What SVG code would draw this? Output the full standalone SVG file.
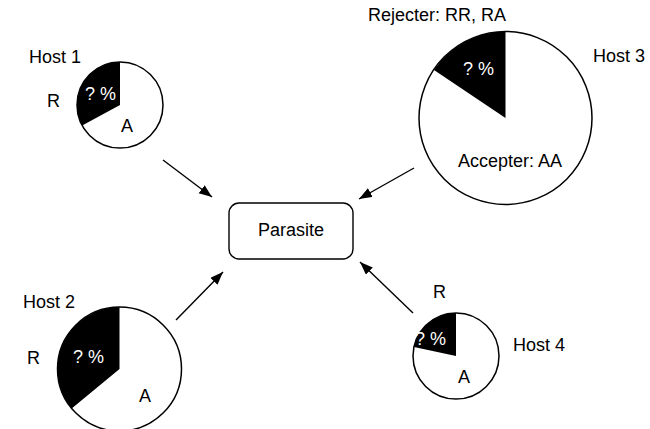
<svg xmlns="http://www.w3.org/2000/svg" width="650" height="429" viewBox="0 0 650 429">
<style>
text{font-family:"Liberation Sans",Arial,sans-serif;font-size:18px;fill:#000}
text.w{fill:#fff}
.pie{fill:none;stroke:#000;stroke-width:1.5}
.wedge{fill:#000}
.con{stroke:#000;stroke-width:1.4;fill:none;marker-end:url(#ah)}
</style>
<defs>
<marker id="ah" markerUnits="userSpaceOnUse" markerWidth="14" markerHeight="12" refX="13" refY="5" orient="auto">
<path d="M0,0 L13,5 L0,10 Z" fill="#000"/>
</marker>
</defs>
<rect width="650" height="429" fill="#fff"/>
<g id="connectors">
<line class="con" x1="163" y1="160" x2="212" y2="197"/>
<line class="con" x1="414" y1="168" x2="359" y2="199"/>
<line class="con" x1="176" y1="320" x2="223" y2="272"/>
<line class="con" x1="413" y1="313" x2="360" y2="262"/>
</g>
<g id="parasite">
<rect x="229" y="203" width="124" height="56" rx="10" fill="#fff" stroke="#000" stroke-width="1.4"/>
<text x="291" y="236" text-anchor="middle">Parasite</text>
</g>
<g id="host1">
<path class="wedge" d="M120,105 L120,62 A43,43 0 0 0 82.2,125.4 Z"/>
<circle class="pie" cx="120" cy="105" r="43"/>
<text x="29" y="63">Host 1</text>
<text x="47" y="107">R</text>
<text class="w" x="85" y="100">? %</text>
<text x="121" y="132">A</text>
</g>
<g id="host3">
<path class="wedge" d="M505.5,118 L505.5,31.5 A86.5,86.5 0 0 0 434,70 Z"/>
<circle class="pie" cx="505.5" cy="118" r="86.5"/>
<text x="368" y="21">Rejecter: RR, RA</text>
<text x="593" y="62">Host 3</text>
<text class="w" x="463" y="75">? %</text>
<text x="458" y="167">Accepter: AA</text>
</g>
<g id="host2">
<path class="wedge" d="M119.5,369 L119.5,307 A62,62 0 0 0 71.7,408.5 Z"/>
<circle class="pie" cx="119.5" cy="369" r="62"/>
<text x="23" y="308">Host 2</text>
<text x="27" y="364">R</text>
<text class="w" x="73" y="363">? %</text>
<text x="139" y="402">A</text>
</g>
<g id="host4">
<path class="wedge" d="M456,356 L456,313 A43,43 0 0 0 414,347 Z"/>
<circle class="pie" cx="456" cy="356" r="43"/>
<text x="433" y="298">R</text>
<text class="w" x="415" y="345">? %</text>
<text x="458" y="383">A</text>
<text x="513" y="351">Host 4</text>
</g>
</svg>
